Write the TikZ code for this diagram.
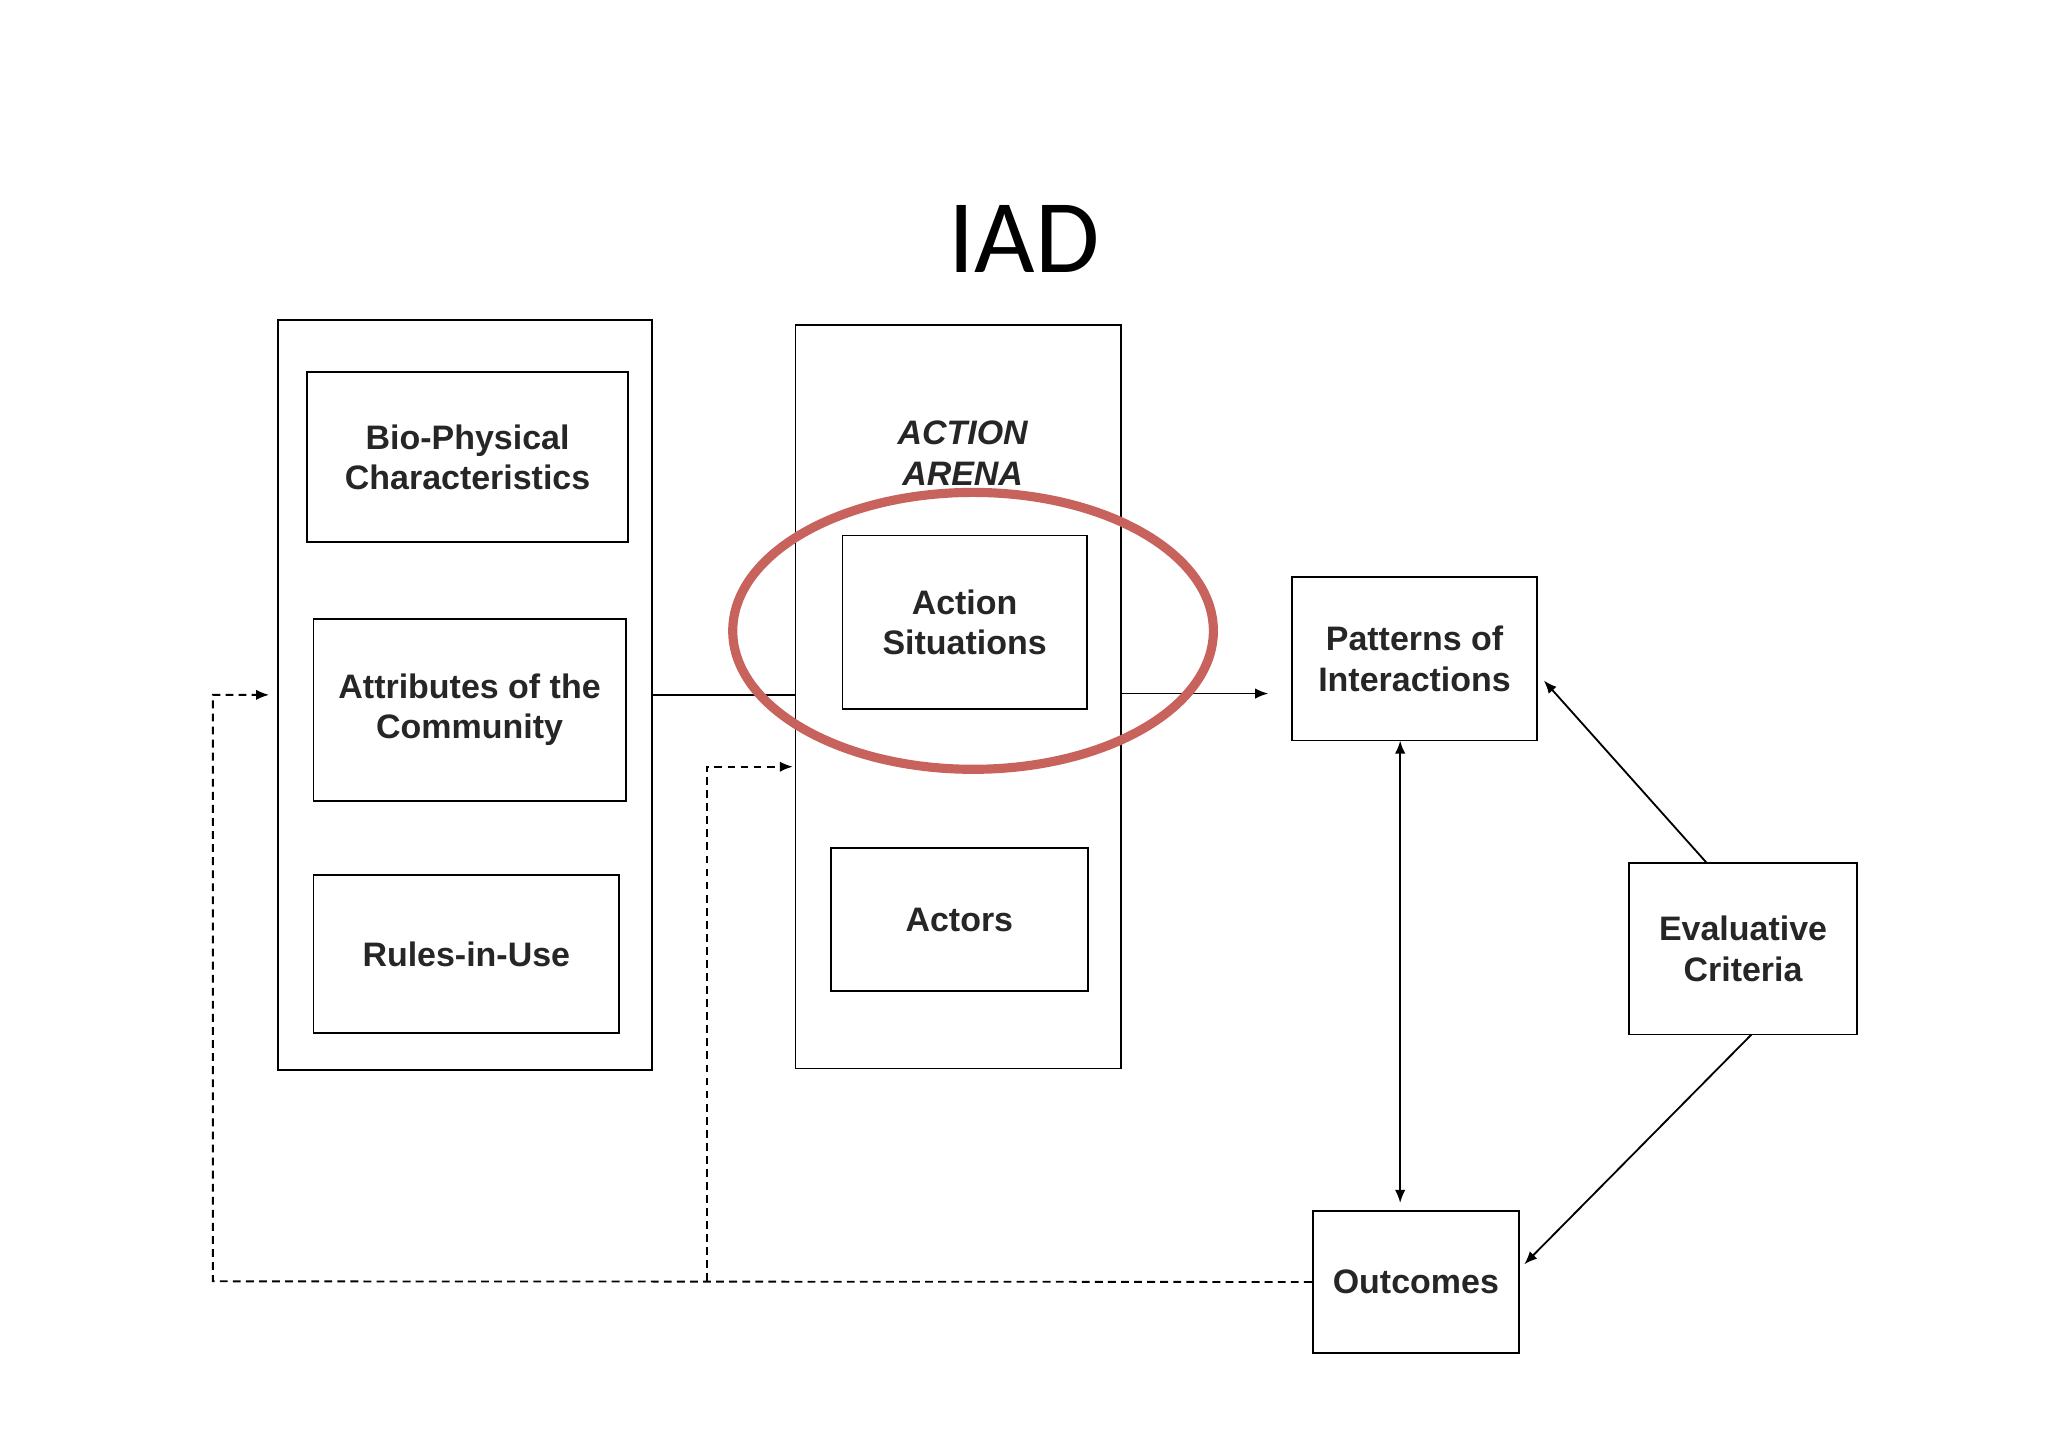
\documentclass[tikz,border=0pt]{standalone}
\usepackage{fontspec}
\setmainfont{Liberation Sans}
\newfontfamily\titlefont{Carlito}
\usetikzlibrary{arrows.meta}
\definecolor{ellred}{RGB}{200,98,92}
\begin{document}
\begin{tikzpicture}[x=0.5pt,y=-0.5pt,
  box/.style={draw,line width=0.7pt},
  lbl/.style={font=\bfseries\fontsize{13}{15.5}\selectfont,align=center,text=black!85},
  arr/.style={-{Latex[length=5pt,width=4pt]},line width=0.7pt},
  darr/.style={arr,dashed,dash pattern=on 3pt off 2pt}]
\useasboundingbox (0,0) rectangle (1568,1108);
\node[font=\titlefont\fontsize{40}{44}\selectfont] (title) at (784,183) {IAD};
\draw[box] (213,245) rectangle (499,819);
\coordinate (leftin) at (206,532);
\node[box,minimum width=123pt,minimum height=65pt,lbl] (bio) at (358,350) {Bio-Physical\\Characteristics};
\node[box,minimum width=119.5pt,minimum height=69.5pt,lbl] (attr) at (359.5,543.5) {Attributes of the\\Community};
\node[box,minimum width=117pt,minimum height=60.5pt,lbl] (rules) at (357,730.5) {Rules-in-Use};
\draw[box] (609,249) rectangle (858,818);
\node[lbl,font=\bfseries\itshape\fontsize{13}{15.5}\selectfont] (arena) at (737,347) {ACTION\\ARENA};
\node[box,minimum width=93.5pt,minimum height=66.5pt,lbl] (sit) at (738.5,476.5) {Action\\Situations};
\node[box,minimum width=98.5pt,minimum height=55pt,lbl] (actors) at (734.5,704) {Actors};
\node[box,minimum width=94pt,minimum height=62.5pt,lbl] (pat) at (1083,504.5) {Patterns of\\Interactions};
\node[box,minimum width=87.5pt,minimum height=65.5pt,lbl] (eval) at (1334.5,726.5) {Evaluative\\Criteria};
\node[box,minimum width=79pt,minimum height=54.5pt,lbl] (out) at (1084,981.5) {Outcomes};
\coordinate (a1) at (499,532);
\coordinate (a2) at (609,532);
\coordinate (b1) at (858,531);
\coordinate (b2) at (971,531);
\draw[line width=0.7pt] (a1) -- (a2);
\draw[arr] (b1) -- (b2);
\draw[ellred,line width=3.5pt] (745,483) ellipse [x radius=184,y radius=106];
\draw[arr,{Latex[length=5pt,width=4pt]}-{Latex[length=5pt,width=4pt]}] (1072,567) -- (1072,921);
\draw[arr] (1307,661) -- (1182,521);
\draw[arr] (1341,792) -- (1167,968);
\coordinate (c1) at (163,981);
\coordinate (c2) at (541,981);
\coordinate (midin) at (607,587);
\draw[darr] (out.west) -- (c1) -- (163,532) -- (leftin);
\draw[darr] (c2) -- (541,587) -- (midin);
\end{tikzpicture}
\end{document}
